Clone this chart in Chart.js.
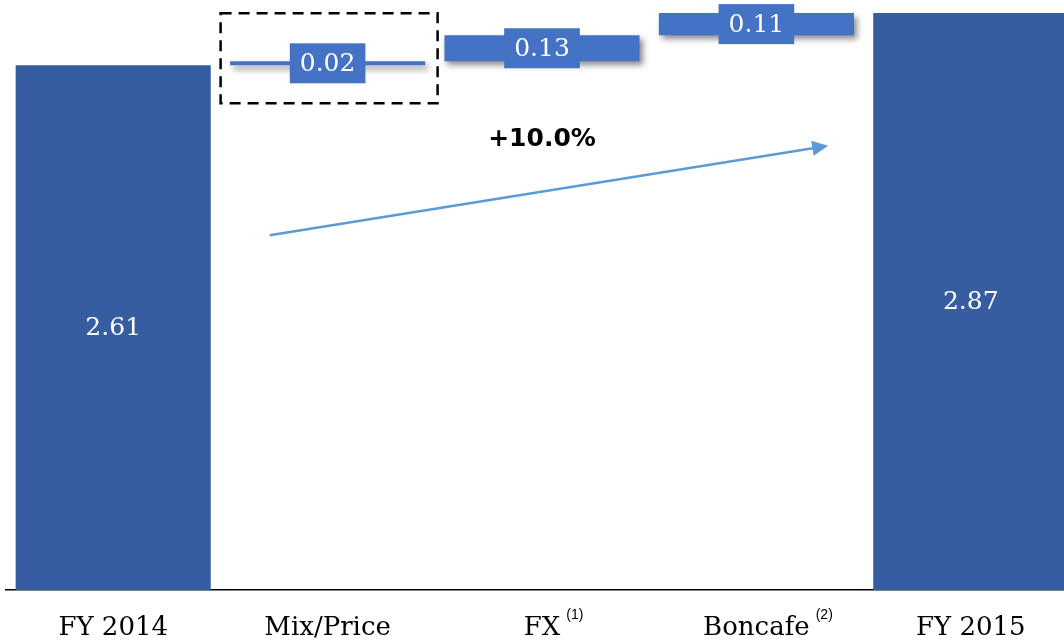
<!DOCTYPE html>
<html>
<head>
<meta charset="utf-8">
<script src="https://cdn.jsdelivr.net/npm/chart.js@4.4.0/dist/chart.umd.min.js"></script>
<style>
  html, body { margin: 0; padding: 0; background: #fff; overflow: hidden; }
  #wrap { width: 1064px; height: 641px; overflow: hidden; }
</style>
</head>
<body>
<div id="wrap"><canvas id="chart" width="1078" height="641"></canvas></div>
<script>
// Bridge data
const categories = ['FY 2014', 'Mix/Price', 'FX', 'Boncafe', 'FY 2015'];
const notes = ['', '', '(1)', '(2)', ''];
const values = [2.61, 0.02, 0.13, 0.11, 2.87];
const isTotal = [true, false, false, false, true];

// Build floating ranges for the waterfall
let running = 0;
const totalBars = [];
const stepBars = [];
values.forEach((v, i) => {
  if (isTotal[i]) {
    totalBars.push([0, v]);
    stepBars.push(null);
    running = v;
  } else {
    totalBars.push(null);
    stepBars.push([running, running + v]);
    running += v;
  }
});
const growth = (values[values.length - 1] / values[0] - 1) * 100;

const TOTAL_COLOR = '#365DA0';
const STEP_COLOR = '#4472C4';
const ARROW_COLOR = '#5B9BD5';

// Drop shadow on the step bars only
const shadowPlugin = {
  id: 'barShadow',
  beforeDatasetDraw(chart, args) {
    if (args.index !== 1) return;
    const ctx = chart.ctx;
    ctx.save();
    ctx.shadowColor = 'rgba(0,0,0,0.45)';
    ctx.shadowBlur = 6;
    ctx.shadowOffsetX = 3;
    ctx.shadowOffsetY = 4;
  },
  afterDatasetDraw(chart, args) {
    if (args.index !== 1) return;
    chart.ctx.restore();
  }
};

// Value labels, dashed frame, growth arrow, footnote marks
const labelPlugin = {
  id: 'barLabels',
  afterDatasetsDraw(chart) {
    const ctx = chart.ctx;
    const xs = chart.scales.x;
    const ys = chart.scales.y;
    ctx.save();

    ctx.font = '25px "DejaVu Serif"';
    ctx.textAlign = 'center';
    ctx.textBaseline = 'middle';
    chart.data.datasets.forEach((ds, di) => {
      chart.getDatasetMeta(di).data.forEach((bar, i) => {
        if (!ds.data[i]) return;
        const txt = values[i].toFixed(2);
        const cy = (bar.y + bar.base) / 2;
        if (di === 1) {
          const w = ctx.measureText(txt).width + 20;
          ctx.fillStyle = STEP_COLOR;
          ctx.fillRect(bar.x - w / 2, cy - 20, w, 40);
        }
        ctx.fillStyle = '#fff';
        ctx.fillText(txt, bar.x, cy + 1);
      });
    });

    // dashed frame round Mix/Price
    const mp = chart.getDatasetMeta(1).data[1];
    const mpy = (mp.y + mp.base) / 2;
    ctx.setLineDash([11, 7]);
    ctx.lineWidth = 2.5;
    ctx.strokeStyle = '#000';
    ctx.strokeRect(mp.x - 107, mpy - 50, 217, 90);
    ctx.setLineDash([]);

    // growth arrow
    const ax0 = xs.getPixelForValue(0.73), ay0 = ys.getPixelForValue(1.765);
    const ax1 = xs.getPixelForValue(3.335), ay1 = ys.getPixelForValue(2.21);
    const ang = Math.atan2(ay1 - ay0, ax1 - ax0);
    const c = Math.cos(ang), s = Math.sin(ang);
    ctx.strokeStyle = ARROW_COLOR;
    ctx.fillStyle = ARROW_COLOR;
    ctx.lineWidth = 2.5;
    ctx.beginPath();
    ctx.moveTo(ax0, ay0);
    ctx.lineTo(ax1 - 14 * c, ay1 - 14 * s);
    ctx.stroke();
    ctx.beginPath();
    ctx.moveTo(ax1, ay1);
    ctx.lineTo(ax1 - 16 * c + 7.5 * s, ay1 - 16 * s - 7.5 * c);
    ctx.lineTo(ax1 - 16 * c - 7.5 * s, ay1 - 16 * s + 7.5 * c);
    ctx.closePath();
    ctx.fill();

    // growth text
    ctx.fillStyle = '#000';
    ctx.font = 'bold 25px "DejaVu Sans"';
    ctx.textBaseline = 'alphabetic';
    ctx.fillText('+' + growth.toFixed(1) + '%', xs.getPixelForValue(2), ys.getPixelForValue(2.21));

    ctx.restore();
  },
  afterDraw(chart) {
    const ctx = chart.ctx;
    const xs = chart.scales.x;
    ctx.save();
    notes.forEach((n, i) => {
      if (!n) return;
      ctx.font = '26px "DejaVu Serif"';
      const w = ctx.measureText(categories[i]).width;
      ctx.font = '14px "Liberation Sans"';
      ctx.fillStyle = '#000';
      ctx.textAlign = 'left';
      ctx.textBaseline = 'alphabetic';
      ctx.fillText(n, xs.getPixelForValue(i) + w / 2 + 6, chart.chartArea.bottom + 29);
    });
    ctx.restore();
  }
};

new Chart(document.getElementById('chart'), {
  type: 'bar',
  data: {
    labels: categories,
    datasets: [
      { data: totalBars, backgroundColor: TOTAL_COLOR, grouped: false },
      { data: stepBars, backgroundColor: STEP_COLOR, grouped: false }
    ]
  },
  options: {
    responsive: false,
    animation: false,
    categoryPercentage: 1,
    barPercentage: 0.91,
    layout: { padding: { left: 6, right: 0, top: 0, bottom: 0 } },
    plugins: {
      legend: { display: false },
      tooltip: { enabled: false }
    },
    scales: {
      x: {
        grid: { display: false, drawTicks: false },
        border: { display: true, color: '#000', width: 1.5 },
        ticks: {
          color: '#000',
          font: { family: 'DejaVu Serif', size: 26, lineHeight: 1 },
          padding: 25,
          maxRotation: 0,
          autoSkip: false
        },
        afterFit(scale) { scale.height = 51; }
      },
      y: { display: false, min: 0, max: 2.935 }
    }
  },
  plugins: [shadowPlugin, labelPlugin]
});
</script>
</body>
</html>
